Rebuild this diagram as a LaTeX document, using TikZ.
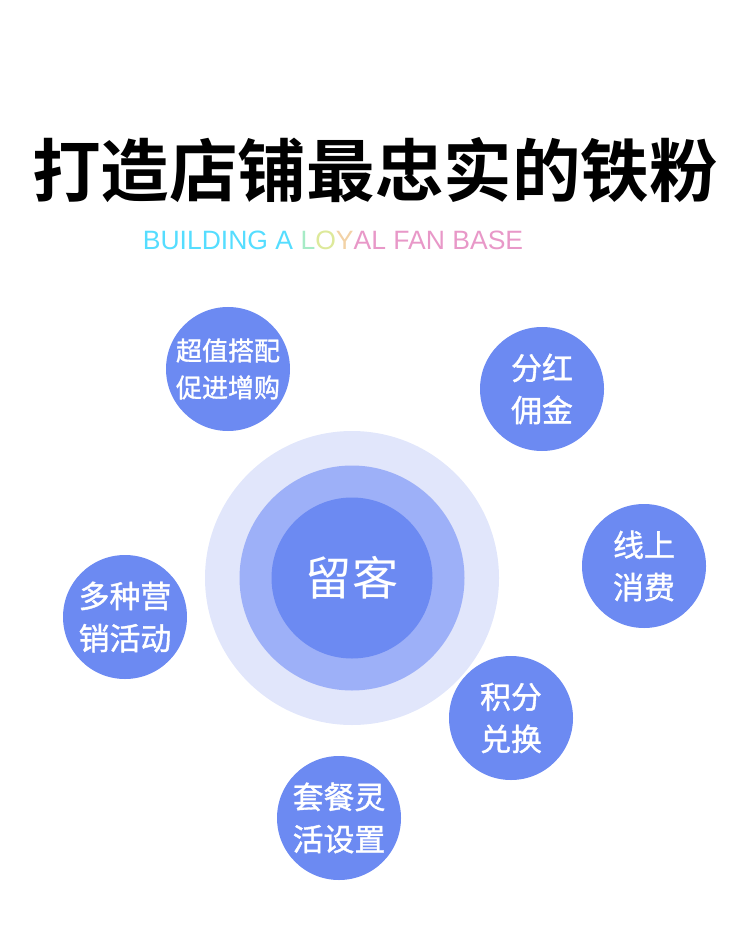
\documentclass[tikz,border=0pt]{standalone}
\usepackage{fontspec}
\setmainfont{Liberation Sans}
\newfontfamily\cjk{Noto Sans CJK SC}
\newfontfamily\cjkmid[FakeBold=1.2]{Noto Sans CJK SC}
\newfontfamily\cjkbold{Noto Sans CJK SC Bold}
\definecolor{ringout}{HTML}{E1E6FB}
\definecolor{ringmid}{HTML}{9DB0F8}
\definecolor{dotblue}{HTML}{6C8AF2}
\definecolor{subcyan}{HTML}{55DDFF}
\definecolor{subgreen}{HTML}{A6EBC6}
\definecolor{subyellow}{HTML}{DDE99A}
\definecolor{subpeach}{HTML}{F2D2A6}
\definecolor{subpink}{HTML}{E898C8}

\begin{document}
\begin{tikzpicture}[x=0.02cm,y=-0.02cm]
			\tikzset{dot/.style={shape = circle, fill = dotblue, text = white, inner sep = 0pt,
					minimum size = 124*0.02cm, align = center,
					font = \cjkmid\fontsize{17.6pt}{24pt}\selectfont}}
			\tikzset{ring/.style={shape = circle, inner sep = 0pt}}
			\useasboundingbox (0, 0) rectangle (750, 945);
			%titles
			\node (title) at (375, 170) {\cjkbold\fontsize{39pt}{44pt}\selectfont 打造店铺最忠实的铁粉};
			\node (sub) at (333, 240) {\fontsize{15.1pt}{18pt}\selectfont
				\textcolor{subcyan}{BUILDING A }\textcolor{subgreen}{L}\textcolor{subyellow}{O}\textcolor{subpeach}{Y}\textcolor{subpink}{AL FAN BASE}};
			%center
			\node[ring, fill = ringout, minimum size = 294*0.02cm] (outer) at (352, 578) {};
			\node[ring, fill = ringmid, minimum size = 225*0.02cm] (middle) at (352, 578) {};
			\node[ring, fill = dotblue, minimum size = 161*0.02cm, text = white,
				font = \cjk\fontsize{26.3pt}{30pt}\selectfont] (keep) at (352, 578) {留客};
			%outer dots
			\node[dot, font = \cjkmid\fontsize{14.8pt}{21pt}\selectfont] (combo) at (228, 369) {超值搭配\\促进增购};
			\node[dot] (bonus) at (542, 389) {分红\\佣金};
			\node[dot] (online) at (644, 566) {线上\\消费};
			\node[dot] (promo) at (125, 617) {多种营\\销活动};
			\node[dot] (points) at (511, 718) {积分\\兑换};
			\node[dot] (meal) at (339, 818) {套餐灵\\活设置};
			\end{tikzpicture}
\end{document}
